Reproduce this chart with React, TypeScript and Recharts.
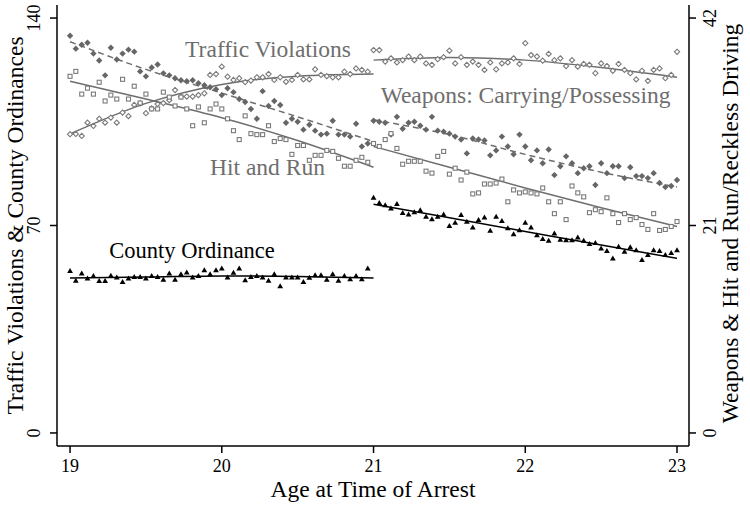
import React from 'react';
import { ComposedChart, Scatter, Line, XAxis, YAxis, ReferenceDot } from 'recharts';

// Ages (biweekly bins)
const preAges = [
  19, 19.038, 19.077, 19.115, 19.154, 19.192, 19.231, 19.269, 19.308, 19.346, 19.385, 19.423, 19.462,
  19.5, 19.538, 19.577, 19.615, 19.654, 19.692, 19.731, 19.769, 19.808, 19.846, 19.885, 19.923, 19.962,
  20, 20.038, 20.077, 20.115, 20.154, 20.192, 20.231, 20.269, 20.308, 20.346, 20.385, 20.423, 20.462,
  20.5, 20.538, 20.577, 20.615, 20.654, 20.692, 20.731, 20.769, 20.808, 20.846, 20.885, 20.923, 20.962,
];
const postAges = [
  21, 21.038, 21.077, 21.115, 21.154, 21.192, 21.231, 21.269, 21.308, 21.346, 21.385, 21.423, 21.462,
  21.5, 21.538, 21.577, 21.615, 21.654, 21.692, 21.731, 21.769, 21.808, 21.846, 21.885, 21.923, 21.962,
  22, 22.038, 22.077, 22.115, 22.154, 22.192, 22.231, 22.269, 22.308, 22.346, 22.385, 22.423, 22.462,
  22.5, 22.538, 22.577, 22.615, 22.654, 22.692, 22.731, 22.769, 22.808, 22.846, 22.885, 22.923, 22.962, 23,
];

// Traffic Violations (left axis)
const trafficPre = [
  100.8, 100.9, 100.2, 104.7, 103.6, 106.0, 104.7, 106.4, 104.7, 108.1,
  106.9, 110.7, 111.2, 107.9, 109.5, 111.0, 111.3, 112.3, 115.7, 113.5,
  113.5, 113.5, 114.0, 114.6, 120.8, 121.1, 123.6, 120.2, 119.1, 119.7,
  118.4, 118.9, 120.0, 120.0, 121.1, 119.1, 120.0, 118.5, 119.1, 120.8,
  119.3, 119.3, 122.7, 120.8, 120.4, 120.0, 120.0, 121.9, 121.1, 123.0, 122.5, 121.9,
];
const trafficPost = [
  129.2, 129.2, 125.3, 126.4, 125.0, 125.8, 127.0, 125.8, 127.0, 124.7,
  124.2, 126.1, 126.8, 129.0, 124.7, 126.8, 124.2, 125.3, 124.2, 122.5,
  125.0, 122.7, 124.7, 125.0, 126.4, 124.5, 131.5, 127.5, 127.0, 125.6,
  127.9, 125.8, 126.4, 123.8, 125.8, 123.6, 124.5, 124.2, 121.4, 124.7,
  123.8, 122.2, 124.5, 122.5, 121.4, 119.3, 122.2, 118.8, 122.5, 123.0,
  119.7, 120.8, 128.6,
];

// Weapons: Carrying/Possessing (right axis)
const weaponsPre = [
  40.2, 38.9, 39.3, 39.5, 38.4, 37.7, 36.2, 39.0, 37.8, 38.4,
  38.8, 38.6, 36.6, 36.1, 37.0, 37.3, 36.4, 36.2, 35.9, 35.7,
  35.6, 35.7, 35.4, 35.2, 35.0, 34.8, 34.2, 34.9, 34.5, 33.8,
  33.5, 32.8, 31.8, 34.6, 33.1, 33.6, 33.2, 31.4, 31.8, 31.5,
  30.7, 31.2, 30.6, 30.2, 30.3, 31.6, 30.2, 30.2, 30.0, 31.3, 29.0, 29.3,
];
const weaponsPost = [
  31.6, 31.5, 31.4, 30.2, 32.0, 30.8, 31.4, 31.5, 31.1, 30.7,
  32.0, 30.6, 30.5, 30.3, 30.0, 29.7, 28.3, 29.8, 29.7, 29.6,
  28.1, 28.6, 30.0, 29.0, 28.2, 30.2, 29.0, 27.6, 28.6, 27.3,
  28.7, 26.1, 27.0, 28.0, 27.3, 26.3, 26.8, 27.0, 25.1, 27.3,
  26.3, 27.0, 27.0, 25.8, 26.9, 26.0, 26.0, 25.8, 26.3, 25.3,
  24.9, 25.0, 25.6,
];

// Hit and Run / Reckless Driving (right axis)
const hitRunPre = [
  36.1, 36.6, 34.3, 34.9, 34.3, 35.5, 33.6, 34.2, 33.8, 35.8,
  33.8, 35.1, 33.4, 34.3, 32.8, 32.8, 34.5, 34.0, 33.1, 34.0,
  32.8, 31.1, 33.0, 31.4, 32.8, 33.3, 32.8, 31.8, 30.6, 29.7,
  32.1, 30.3, 30.2, 30.2, 31.1, 29.5, 29.8, 29.7, 28.2, 29.1,
  29.1, 27.6, 28.1, 28.1, 28.6, 28.5, 27.8, 27.0, 27.0, 27.6, 27.9, 27.4,
];
const hitRunPost = [
  29.3, 29.0, 29.7, 30.3, 28.8, 27.2, 27.5, 27.5, 27.5, 26.5,
  26.3, 28.0, 28.5, 26.2, 26.8, 25.6, 26.4, 24.2, 24.3, 25.2,
  25.2, 25.3, 25.7, 23.4, 24.6, 24.3, 24.4, 24.3, 24.2, 24.8,
  23.4, 22.2, 23.4, 21.6, 25.0, 24.3, 23.9, 22.3, 22.6, 22.4,
  23.8, 22.2, 21.3, 22.2, 21.6, 21.8, 21.1, 20.6, 22.2, 20.5,
  20.6, 20.9, 21.4,
];

// County Ordinance (left axis)
const countyPre = [
  54.7, 51.4, 53.9, 52.2, 53.0, 51.3, 51.3, 53.1, 52.5, 51.0,
  52.2, 52.7, 52.7, 52.2, 53.0, 52.7, 51.8, 53.9, 51.8, 53.6,
  54.2, 52.5, 53.0, 55.0, 53.6, 55.0, 55.6, 52.5, 54.1, 55.6,
  51.6, 52.7, 53.0, 52.5, 51.4, 53.6, 49.6, 52.5, 52.5, 52.5,
  51.0, 52.4, 53.3, 53.3, 51.8, 53.6, 51.4, 53.0, 51.9, 53.0, 51.9, 55.6,
];
const countyPost = [
  79.4, 77.7, 76.9, 75.8, 77.3, 74.3, 73.8, 74.5, 75.2, 73.0,
  72.2, 73.0, 73.8, 69.9, 71.0, 73.6, 71.3, 69.4, 71.9, 72.8,
  68.3, 73.0, 71.6, 69.1, 67.1, 68.5, 71.0, 69.4, 66.8, 65.5,
  64.9, 67.4, 65.3, 65.1, 65.1, 66.0, 64.9, 63.8, 64.2, 62.3,
  61.5, 58.9, 62.9, 61.2, 62.7, 61.7, 58.4, 60.1, 61.7, 61.5,
  60.1, 60.8, 61.7,
];

// Fitted curves
const fitPreAges = [19, 19.5, 20, 20.5, 21];
const fitPostAges = [21, 21.5, 22, 22.5, 23];
const trafficFitPre = [100.9, 111.2, 117.6, 120.4, 121.1];
const trafficFitPost = [125.8, 126.7, 125.8, 123.3, 120.0];
const weaponsFitPre = [39.6, 36.8, 34.4, 32.0, 29.5];
const weaponsFitPost = [31.7, 30.2, 28.2, 26.4, 24.9];
const hitRunFitPre = [35.6, 33.8, 31.9, 29.6, 26.9];
const hitRunFitPost = [29.0, 26.9, 24.8, 22.8, 20.9];
const countyFitPre = [52.3, 52.6, 53.0, 52.8, 52.3];
const countyFitPost = [77.2, 72.6, 68.0, 63.4, 58.9];

const xTicks = [19, 20, 21, 22, 23];
const leftTicks = [0, 70, 140];
const rightTicks = [0, 21, 42];

const FONT = "'Liberation Serif', 'Times New Roman', serif";
const GRAY = '#6e6e6e';

const pts = (xs: number[], ys: number[]) => xs.map((x, i) => ({ x, y: ys[i] }));

const HollowDiamond = (p: any) => {
  const { cx, cy } = p;
  if (cx == null || cy == null) return <g />;
  const r = 2.6;
  return (
    <polygon
      points={`${cx},${cy - r} ${cx + r},${cy} ${cx},${cy + r} ${cx - r},${cy}`}
      fill="#ffffff"
      stroke="#7a7a7a"
      strokeWidth={1.1}
    />
  );
};
const FilledDiamond = (p: any) => {
  const { cx, cy } = p;
  if (cx == null || cy == null) return <g />;
  const r = 3.2;
  return <polygon points={`${cx},${cy - r} ${cx + r},${cy} ${cx},${cy + r} ${cx - r},${cy}`} fill="#666666" />;
};
const HollowSquare = (p: any) => {
  const { cx, cy } = p;
  if (cx == null || cy == null) return <g />;
  const r = 2;
  return <rect x={cx - r} y={cy - r} width={2 * r} height={2 * r} fill="#ffffff" stroke="#7a7a7a" strokeWidth={1.1} />;
};
const Triangle = (p: any) => {
  const { cx, cy } = p;
  if (cx == null || cy == null) return <g />;
  return <polygon points={`${cx},${cy - 2.8} ${cx + 2.9},${cy + 2.2} ${cx - 2.9},${cy + 2.2}`} fill="#000000" />;
};

const XTick = (p: any) => (
  <text x={p.x} y={p.y + 19} textAnchor="middle" fontSize={18} fontFamily={FONT} fill="#000">
    {p.payload.value}
  </text>
);
const LeftTick = (p: any) => (
  <text transform={`translate(${p.x - 10.5},${p.y}) rotate(-90)`} textAnchor="middle" fontSize={18} fontFamily={FONT} fill="#000">
    {p.payload.value}
  </text>
);
const RightTick = (p: any) => (
  <text transform={`translate(${p.x + 20},${p.y}) rotate(-90)`} textAnchor="middle" fontSize={18} fontFamily={FONT} fill="#000">
    {p.payload.value}
  </text>
);

const XTitle = (p: any) => {
  const vb = p.viewBox || { x: 57, y: 446, width: 632, height: 60 };
  return (
    <text x={vb.x + vb.width / 2} y={vb.y + 51} textAnchor="middle" fontSize={23.5} fontFamily={FONT} fill="#000">
      Age at Time of Arrest
    </text>
  );
};
const LeftTitle = (p: any) => {
  const vb = p.viewBox || { x: 0, y: 5, width: 57, height: 441 };
  return (
    <text transform={`translate(${vb.x + 22.5},${vb.y + vb.height / 2}) rotate(-90)`} textAnchor="middle" fontSize={23.5} fontFamily={FONT} fill="#000">
      Traffic Violations &amp; County Ordinances
    </text>
  );
};
const RightTitle = (p: any) => {
  const vb = p.viewBox || { x: 689, y: 5, width: 61, height: 441 };
  return (
    <text transform={`translate(${vb.x + 49},${vb.y + vb.height / 2 - 2}) rotate(-90)`} textAnchor="middle" fontSize={23.5} fontFamily={FONT} fill="#000">
      Weapons &amp; Hit and Run/Reckless Driving
    </text>
  );
};

const textShape = (label: string, color: string, size: number) => (p: any) => (
  <text x={p.cx} y={p.cy} textAnchor="middle" fontSize={size} fontFamily={FONT} fill={color}>
    {label}
  </text>
);

const axisLine = { stroke: '#000', strokeWidth: 1.5 };

export default function App() {
  return (
    <div style={{ position: 'absolute', left: 0, top: 0, width: 750, height: 506, background: '#fff' }}>
      <ComposedChart width={750} height={506} margin={{ top: 5, right: 0, bottom: 0, left: 0 }}>
        <XAxis
          type="number"
          dataKey="x"
          domain={[18.914, 23.079]}
          ticks={xTicks}
          height={60}
          axisLine={axisLine}
          tickLine={axisLine}
          tickSize={7}
          tickMargin={0}
          tick={<XTick />}
          label={<XTitle />}
          allowDataOverflow
        />
        <YAxis
          yAxisId="L"
          orientation="left"
          type="number"
          dataKey="y"
          domain={[-4.4, 144.4]}
          ticks={leftTicks}
          width={57}
          axisLine={axisLine}
          tickLine={axisLine}
          tickSize={7}
          tickMargin={0}
          tick={<LeftTick />}
          label={<LeftTitle />}
          allowDataOverflow
        />
        <YAxis
          yAxisId="R"
          orientation="right"
          type="number"
          dataKey="y"
          domain={[-1.32, 43.32]}
          ticks={rightTicks}
          width={61}
          axisLine={axisLine}
          tickLine={axisLine}
          tickSize={7}
          tickMargin={0}
          tick={<RightTick />}
          label={<RightTitle />}
          allowDataOverflow
        />

        <Scatter yAxisId="L" data={pts(preAges, trafficPre)} shape={HollowDiamond} isAnimationActive={false} />
        <Scatter yAxisId="L" data={pts(postAges, trafficPost)} shape={HollowDiamond} isAnimationActive={false} />
        <Scatter yAxisId="R" data={pts(preAges, weaponsPre)} shape={FilledDiamond} isAnimationActive={false} />
        <Scatter yAxisId="R" data={pts(postAges, weaponsPost)} shape={FilledDiamond} isAnimationActive={false} />
        <Scatter yAxisId="R" data={pts(preAges, hitRunPre)} shape={HollowSquare} isAnimationActive={false} />
        <Scatter yAxisId="R" data={pts(postAges, hitRunPost)} shape={HollowSquare} isAnimationActive={false} />
        <Scatter yAxisId="L" data={pts(preAges, countyPre)} shape={Triangle} isAnimationActive={false} />
        <Scatter yAxisId="L" data={pts(postAges, countyPost)} shape={Triangle} isAnimationActive={false} />

        <Line yAxisId="L" data={pts(fitPreAges, trafficFitPre)} dataKey="y" type="monotone" stroke={GRAY} strokeWidth={1.5} dot={false} activeDot={false} isAnimationActive={false} />
        <Line yAxisId="L" data={pts(fitPostAges, trafficFitPost)} dataKey="y" type="monotone" stroke={GRAY} strokeWidth={1.5} dot={false} activeDot={false} isAnimationActive={false} />
        <Line yAxisId="R" data={pts(fitPreAges, weaponsFitPre)} dataKey="y" type="monotone" stroke={GRAY} strokeWidth={1.5} strokeDasharray="6 4" dot={false} activeDot={false} isAnimationActive={false} />
        <Line yAxisId="R" data={pts(fitPostAges, weaponsFitPost)} dataKey="y" type="monotone" stroke={GRAY} strokeWidth={1.5} strokeDasharray="6 4" dot={false} activeDot={false} isAnimationActive={false} />
        <Line yAxisId="R" data={pts(fitPreAges, hitRunFitPre)} dataKey="y" type="monotone" stroke={GRAY} strokeWidth={1.5} dot={false} activeDot={false} isAnimationActive={false} />
        <Line yAxisId="R" data={pts(fitPostAges, hitRunFitPost)} dataKey="y" type="monotone" stroke={GRAY} strokeWidth={1.5} dot={false} activeDot={false} isAnimationActive={false} />
        <Line yAxisId="L" data={pts(fitPreAges, countyFitPre)} dataKey="y" type="monotone" stroke="#000" strokeWidth={1.5} dot={false} activeDot={false} isAnimationActive={false} />
        <Line yAxisId="L" data={pts(fitPostAges, countyFitPost)} dataKey="y" type="monotone" stroke="#000" strokeWidth={1.5} dot={false} activeDot={false} isAnimationActive={false} />

        <ReferenceDot yAxisId="L" x={20.305} y={126.9} r={0} shape={textShape('Traffic Violations', GRAY, 23.5)} />
        <ReferenceDot yAxisId="L" x={22.002} y={111.3} r={0} shape={textShape('Weapons: Carrying/Possessing', GRAY, 23.5)} />
        <ReferenceDot yAxisId="L" x={20.301} y={87.0} r={0} shape={textShape('Hit and Run', GRAY, 23.5)} />
        <ReferenceDot yAxisId="L" x={19.804} y={58.9} r={0} shape={textShape('County Ordinance', '#000', 22.5)} />
      </ComposedChart>
    </div>
  );
}
